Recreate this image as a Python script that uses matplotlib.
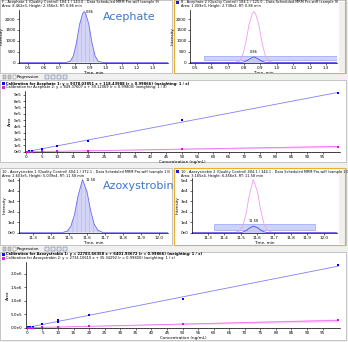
import matplotlib.pyplot as plt
import matplotlib.patches as mpatches
from matplotlib.ticker import MultipleLocator, FuncFormatter

plt.rcParams['hatch.linewidth'] = 0.3
plt.rcParams['font.family'] = 'DejaVu Sans'

# chromatogram traces (time in min, intensity in cps)
ace_t = [0.44, 0.74, 0.77, 0.79, 0.81, 0.83, 0.85, 0.86, 0.87, 0.89, 0.91, 0.93, 0.95, 0.98, 1.40]
ace_1 = [0, 0, 60, 300, 900, 1750, 2250, 2350, 2250, 1750, 900, 300, 60, 0, 0]
ace_2 = [0, 0, 0, 10, 60, 150, 230, 260, 230, 150, 60, 10, 0, 0, 0]
ace_rt = 0.86

azo_t = [11.20, 11.46, 11.49, 11.51, 11.53, 11.55, 11.575, 11.60, 11.62, 11.64, 11.66, 11.69, 12.10]
azo_1 = [0, 0, 1500, 6000, 17000, 35000, 50500, 39000, 21000, 8000, 2500, 0, 0]
azo_2 = [0, 0, 0, 400, 1800, 4200, 6300, 4800, 2400, 800, 100, 0, 0]
azo_rt = 11.58

# calibration points (ng/mL, area)
conc = [0.5, 1, 2, 5, 10, 20, 50, 100]
ace_cal1 = [4000, 9000, 19000, 52000, 88000, 176000, 500000, 930000]
ace_cal2 = [500, 1000, 2000, 5000, 10000, 20000, 41000, 83000]
ace_fit1 = (9378.03851, 118.43988)
ace_fit2 = (849.37607, 39.12069)

azo_conc = [0.5, 1, 2, 5, 10, 10, 20, 50, 100]
azo_cal1 = [20000, 40000, 40000, 120000, 200000, 270000, 480000, 1070000, 2330000]
azo_cal2 = [1000, 5000, 8000, 20000, 40000, 40000, 60000, 150000, 270000]
azo_fit1 = (22783.66358, 6401.93672)
azo_fit2 = (2734.10610, 35.34292)

W, H = 348, 342
fig = plt.figure(figsize=(W / 100, H / 100), dpi=100, facecolor='#f0f0f0')


def box(x0, y0, x1, y1):
    return [x0 / W, 1 - y1 / H, (x1 - x0) / W, (y1 - y0) / H]


def rect(x0, y0, x1, y1, fc, ec='none', lw=0.6, z=0):
    fig.patches.append(mpatches.Rectangle((x0 / W, 1 - y1 / H), (x1 - x0) / W, (y1 - y0) / H,
                                          transform=fig.transFigure, fc=fc, ec=ec, lw=lw, zorder=z))


def txt(x, y, s, **kw):
    kw.setdefault('fontsize', 3)
    kw.setdefault('va', 'center')
    fig.text(x / W, 1 - y / H, s, **kw)


def style(ax):
    ax.patch.set_alpha(0)
    for s in ['top', 'right']:
        ax.spines[s].set_visible(False)
    for s in ['left', 'bottom']:
        ax.spines[s].set_linewidth(0.5)
    ax.tick_params(labelsize=3, length=1.5, width=0.4, pad=1)
    ax.tick_params(which='minor', length=1, width=0.3)


def sci(v, p):
    if v == 0:
        return '0e0'
    e = len(str(int(abs(v)))) - 1
    return '%de%d' % (round(v / 10 ** e), e)


def sci1(v, p):
    if v == 0:
        return '0.0e0'
    e = len(str(int(abs(v)))) - 1
    return '%.1fe%d' % (v / 10 ** e, e)


# panel backgrounds
for b in [(0, 0, 172, 73), (174, 0, 346, 73), (0, 80, 346, 162), (0, 168, 172, 245),
          (174, 168, 346, 245), (0, 252, 346, 340)]:
    rect(*b, fc='white', ec='#b0b0b0', lw=0.5, z=-2)
rect(339, 2, 345, 72, fc='#f0f0f0', z=-1)
rect(339, 170, 345, 244, fc='#f0f0f0', z=-1)
for b in [(174, -2, 345, 73), (174, 168, 345, 245)]:
    rect(*b, fc='none', ec='#e8b030', lw=0.8, z=5)


def chrom(pos, t, y1, y2, xlim, ylim, xt, yt, fmt, rt, band, left):
    ax = fig.add_axes(box(*pos))
    style(ax)
    if left:
        ax.fill_between(t, y1, color='#d4d4f6', hatch='||||', edgecolor='#a8a8ec', lw=0)
        ax.plot(t, y1, color='#6a6af0', lw=0.6)
        ax.plot([t[2], t[-3]], [0, 0], color='#e05050', lw=0.6)
        ax.text(rt + 0.012 * (xlim[1] - xlim[0]), max(y1), '%.2f' % rt, fontsize=2.5, va='center')
    else:
        ax.axhspan(band[2], band[3], xmin=(band[0] - xlim[0]) / (xlim[1] - xlim[0]),
                   xmax=(band[1] - xlim[0]) / (xlim[1] - xlim[0]),
                   fc='#ccd4fa', ec='#8090f0', lw=0.4)
        ax.plot(t, y1, color='#f09cf0', lw=0.6)
        ax.fill_between(t, y2, color='#c8c8f4', lw=0)
        ax.plot(t, y2, color='#5050e8', lw=0.6)
        ax.plot(xlim, [0, 0], color='#c04080', lw=0.5)
        ax.text(rt, max(y2) * 1.25 + 0.02 * ylim[1], '%.2f' % rt, fontsize=2.5, ha='center', va='bottom')
    ax.set_xlim(xlim)
    ax.set_ylim(ylim)
    ax.set_xticks(xt)
    ax.set_yticks(yt)
    ax.yaxis.set_major_formatter(FuncFormatter(fmt))
    ax.set_xlabel('Time, min', fontsize=3, labelpad=0.5)
    ax.set_ylabel('Intensity', fontsize=3, labelpad=1)
    return ax


ace_xt = [0.5, 0.6, 0.7, 0.8, 0.9, 1.0, 1.1, 1.2, 1.3]
azo_xt = [11.3, 11.4, 11.5, 11.6, 11.7, 11.8, 11.9, 12.0]
plain = lambda v, p: '%d' % v

chrom((19, 10, 168, 63), ace_t, ace_1, None, (0.442, 1.397), (-20, 2420), ace_xt,
      [0, 500, 1000, 1500, 2000], plain, ace_rt, None, True)
chrom((190, 10, 337, 63), ace_t, ace_1, ace_2, (0.47, 1.367), (-20, 2420), ace_xt,
      [0, 500, 1000, 1500, 2000], plain, ace_rt, (0.555, 1.367, 140, 320), False)
chrom((19, 178, 168, 233), azo_t, azo_1, None, (11.222, 12.05), (-300, 52000), azo_xt,
      [0, 10000, 20000, 30000, 40000, 50000], sci, azo_rt, None, True)
chrom((192, 178, 337, 233), azo_t, azo_1, azo_2, (11.205, 12.08), (-300, 52000), azo_xt,
      [0, 10000, 20000, 30000, 40000, 50000], sci, azo_rt, (11.335, 11.95, 2800, 8500), False)

txt(103, 17, 'Acephate', fontsize=8, color='#3c78c8')
txt(103, 186, 'Azoxystrobin', fontsize=8, color='#3c78c8')

# chromatogram headers
txt(2, 2.5, 'F - Acephate 1 (Quality Control) 184.1 / 143.0 - Data Scheduled MRM Pro.wiff (sample 9)', fontsize=2.5)
txt(2, 6.5, 'Area: 8.462e3, Height: 2.356e3, RT: 0.86 min', fontsize=2.5)
rect(176, 1, 179, 4, fc='#2020d0', z=3)
txt(181, 2.5, '8 - Acephate 2 (Quality Control) 184.1 / 125.0 - Data Scheduled MRM Pro.wiff (sample 9)', fontsize=2.5)
txt(181, 6.5, 'Area: 1.009e3, Height: 2.738e2, RT: 0.86 min', fontsize=2.5)
txt(2, 171.5, '10 - Azoxystrobin 1 (Quality Control) 404.1 / 372.1 - Data Scheduled MRM Pro.wiff (sample 13)', fontsize=2.5)
txt(2, 175.5, 'Area: 2.603e5, Height: 5.039e4, RT: 11.58 min', fontsize=2.5)
rect(176, 170, 179, 173, fc='#2020d0', z=3)
txt(181, 171.5, '10 - Azoxystrobin 2 (Quality Control) 404.1 / 344.1 - Data Scheduled MRM Pro.wiff (sample 13)', fontsize=2.5)
txt(181, 175.5, 'Area: 3.165e4, Height: 6.456e3, RT: 11.58 min', fontsize=2.5)


def toolbar(y):
    for x in [3, 8]:
        rect(x, y - 2, x + 3, y + 2, fc='#c8c8c8', ec='#808080', lw=0.3, z=3)
    rect(13, y - 2, 16, y + 2, fc='white', ec='#606060', lw=0.3, z=3)
    txt(17, y, 'Regression', fontsize=3)
    for x in [45, 51, 57, 63]:
        rect(x, y - 2, x + 4, y + 2, fc='#e0e8f4', ec='#505870', lw=0.3, z=3)


toolbar(77)
toolbar(249)


def calib(pos, hy, name, xs, y1, y2, f1, f2, ylim, yt, fmt):
    rect(2, hy - 1.5, 5, hy + 1.5, fc='#1010e0', z=3)
    rect(2, hy + 2.5, 5, hy + 5.5, fc='#e020e0', z=3)
    txt(6, hy, 'Calibration for %s 1: y = %.5f x + %.5f (r = 0.99866) (weighting: 1 / x)'
        % (name, f1[0], f1[1]), fontsize=2.6, fontweight='bold')
    txt(6, hy + 4, 'Calibration for %s 2: y = %.5f x + %.5f (r = 0.99800) (weighting: 1 / x)'
        % (name, f2[0], f2[1]), fontsize=2.6)
    ax = fig.add_axes(box(*pos))
    style(ax)
    ends = [0, 100]
    l2 = [f2[0] * x + f2[1] for x in ends]
    ax.fill_between(ends, [v * 0.8 for v in l2], [v * 1.2 for v in l2], color='#fbd0fb', lw=0)
    ax.plot(ends, l2, color='#f070f0', lw=0.6)
    ax.plot(ends, [f1[0] * x + f1[1] for x in ends], color='#8080f8', lw=0.6)
    ax.scatter(xs, y1, s=2.5, marker='s', color='#0000f0', lw=0, zorder=3)
    ax.scatter(xs, y2, s=2.5, marker='s', color='#f000f0', lw=0, zorder=3)
    ax.set_xlim(-0.3, 100.6)
    ax.set_ylim(ylim)
    ax.set_xticks(range(0, 100, 5))
    ax.xaxis.set_minor_locator(MultipleLocator(1))
    ax.set_yticks(yt)
    ax.yaxis.set_major_formatter(FuncFormatter(fmt))
    ax.set_xlabel('Concentration (ng/mL)', fontsize=3, labelpad=0.5)
    ax.set_ylabel('Area', fontsize=3, labelpad=1)


calib((25, 91, 340, 152), 83.5, 'Acephate', conc, ace_cal1, ace_cal2, ace_fit1, ace_fit2,
      (-3000, 960000), [i * 100000 for i in range(10)], sci)
calib((26, 262, 340, 328), 254.5, 'Azoxystrobin', azo_conc, azo_cal1, azo_cal2, azo_fit1, azo_fit2,
      (-10000, 2440000), [0, 500000, 1000000, 1500000, 2000000], sci1)

fig.savefig('out.png', dpi=100, facecolor=fig.get_facecolor())
